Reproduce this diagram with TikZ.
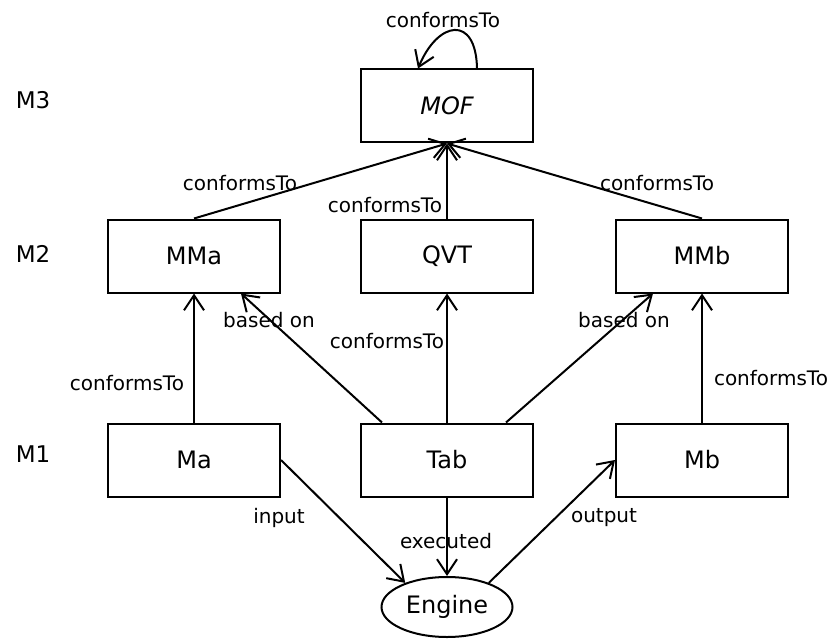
\documentclass[tikz,border=0pt]{standalone}
\usepackage{fontspec}
\setmainfont{DejaVu Sans}
\usetikzlibrary{positioning,arrows.meta,shapes.geometric}
\newcommand\wid{172pt}
\newcommand\hgt{73pt}
\tikzset{model_box/.style = {rectangle, draw, line width=2pt, minimum width=\wid, minimum height=\hgt, inner sep=0pt, font=\fontsize{24}{28}\selectfont}}
\tikzset{mypath/.style = {line width=2pt, -{Straight Barb[length=15pt,width=20pt,line width=2pt]}}}
\tikzset{edge_label/.style = {inner sep=0pt, font=\fontsize{20}{24}\selectfont}}
\tikzset{level_label/.style = {inner sep=0pt, font=\fontsize{23}{27}\selectfont}}

\begin{document}
\begin{tikzpicture}[x=1pt,y=-1pt]
\useasboundingbox (0,0) rectangle (832,639);

\node[level_label] (M3) at (33,100) {M3};
\node[level_label] (M2) at (33,254) {M2};
\node[level_label] (M1) at (33,454) {M1};

\node[model_box, font=\fontsize{24}{28}\selectfont\itshape] (MOF) at (447,106) {MOF};
\node[model_box] (MMa) at (194,256) {MMa};
\node[model_box] (QVT) at (447,256) {QVT};
\node[model_box] (MMb) at (702,256) {MMb};
\node[model_box] (Ma) at (194,460) {Ma};
\node[model_box] (Tab) at (447,460) {Tab};
\node[model_box] (Mb) at (702,460) {Mb};
\node[ellipse, draw, line width=2pt, minimum width=131pt, minimum height=60pt, inner sep=0pt, font=\fontsize{24}{28}\selectfont] (Engine) at (447,607) {Engine};

% conformsTo
\draw[mypath] ([xshift=30pt]MOF.north) .. controls +(-1,-54) and +(20,-48) .. ([xshift=-29pt]MOF.north);
\path[mypath] (MMa.north) edge (MOF.south);
\path[mypath] (QVT.north) edge (MOF.south);
\path[mypath] (MMb.north) edge (MOF.south);
\path[mypath] (Ma.north) edge (MMa.south);
\path[mypath] (Tab.north) edge (QVT.south);
\path[mypath] (Mb.north) edge (MMb.south);
% based on
\path[mypath] ([xshift=22pt]Tab.north west) edge ([xshift=-40pt]MMa.south east);
\path[mypath] ([xshift=-28pt]Tab.north east) edge ([xshift=38pt]MMb.south west);
% transformation
\path[mypath] (Ma.east) edge (Engine.150);
\path[mypath] (Tab.south) edge (Engine.north);
\path[mypath] (Engine.30) edge (Mb.west);

\node[edge_label] at (443,20) {conformsTo};
\node[edge_label] at (240,183) {conformsTo};
\node[edge_label] at (385,205) {conformsTo};
\node[edge_label] at (657,183) {conformsTo};
\node[edge_label] at (269,320) {based on};
\node[edge_label] at (387,341) {conformsTo};
\node[edge_label] at (624,320) {based on};
\node[edge_label] at (127,383) {conformsTo};
\node[edge_label] at (771,378) {conformsTo};
\node[edge_label] at (279,518) {input};
\node[edge_label] at (446,541) {executed};
\node[edge_label] at (604,518) {output};
\end{tikzpicture}
\end{document}
